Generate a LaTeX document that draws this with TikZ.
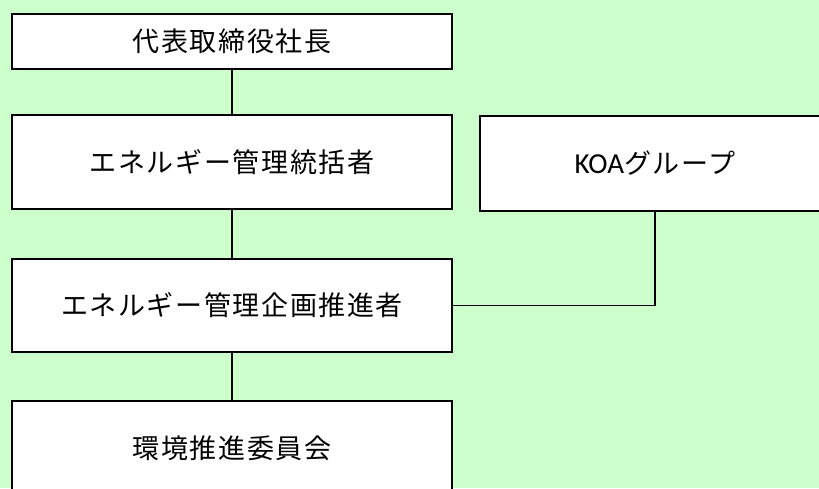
\documentclass[tikz,border=0pt]{standalone}
\usepackage{fontspec}
\newfontfamily\jpfont[LetterSpace=6]{Noto Sans CJK JP}
\newfontfamily\koafont{Carlito}
\definecolor{bggreen}{HTML}{CCFFCC}
\tikzset{
  orgbox/.style={draw,fill=white,line width=2.2pt,minimum width=440pt,
    font=\jpfont\fontsize{27}{32}\selectfont},
  orgline/.style={line width=1.6pt}
}
\begin{document}
\begin{tikzpicture}[x=1pt,y=-1pt]
	\useasboundingbox (0,0) rectangle (819,488);
	\clip (0,0) rectangle (819,488);
	\fill[bggreen] (0,0) rectangle (819,488);
	
	\node[orgbox,minimum height=55pt] (ceo) at (232,41.5) {代表取締役社長};
	\node[orgbox,minimum height=94pt] (chief) at (232,162) {エネルギー管理統括者};
	\node[orgbox,minimum height=93pt] (plan) at (232,305.5) {エネルギー管理企画推進者};
	\node[orgbox,minimum height=94pt] (env) at (232,448) {環境推進委員会};
	
	\node[orgbox,minimum width=350pt,minimum height=95pt] (koa) at (655,163.5)
		{{\koafont\fontsize{29}{32}\selectfont KOA}グループ};
	
	\draw[orgline] (ceo) -- (chief);
	\draw[orgline] (chief) -- (plan);
	\draw[orgline] (plan) -- (env);
	\draw[orgline] (koa.south) |- (plan.east);
\end{tikzpicture}
\end{document}
